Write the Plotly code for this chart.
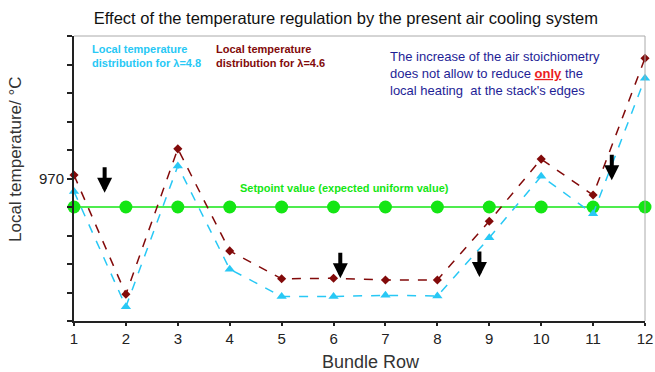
import plotly.graph_objects as go

# Bundle rows along the stack
rows = [1, 2, 3, 4, 5, 6, 7, 8, 9, 10, 11, 12]

# Local temperature per row for the two air stoichiometries (°C)
temp_lambda_48 = [967.7, 947.5, 972.2, 954.1, 949.3, 949.3, 949.5, 949.4, 959.6, 970.4, 963.8, 987.6]
temp_lambda_46 = [970.6, 949.7, 975.2, 957.3, 952.4, 952.5, 952.2, 952.2, 962.5, 973.4, 967.1, 991.1]

# Expected uniform setpoint value
setpoint = [965.0] * len(rows)

# y axis: minor ticks every 5 °C, only 970 labelled
y_ticks = [945, 950, 955, 960, 965, 970, 975, 980, 985, 990, 995]
y_tick_text = ["" if v != 970 else "970" for v in y_ticks]

# Arrow positions (tip) highlighting local heating spots
arrow_x = [1.59, 6.13, 8.81, 11.36]
arrow_y = [967.5, 952.5, 952.7, 969.7]

CYAN = "rgb(40,200,245)"
DARKRED = "rgb(130,10,10)"
GREEN = "rgb(20,230,20)"
NAVY = "rgb(30,30,150)"
FONT = "Liberation Sans, Arial, sans-serif"

W, H = 655, 372
ML, MR, MT, MB = 74, 10, 36, 51

fig = go.Figure()

fig.add_trace(go.Scatter(
    x=rows, y=setpoint, mode="lines+markers",
    line=dict(color=GREEN, width=1.5),
    marker=dict(symbol="circle", size=13, color=GREEN),
    cliponaxis=False, showlegend=False,
))
fig.add_trace(go.Scatter(
    x=rows, y=temp_lambda_48, mode="lines+markers",
    line=dict(color=CYAN, width=1.5, dash="dash"),
    marker=dict(symbol="triangle-up", size=9, color=CYAN),
    cliponaxis=False, showlegend=False,
))
fig.add_trace(go.Scatter(
    x=rows, y=temp_lambda_46, mode="lines+markers",
    line=dict(color=DARKRED, width=1.5, dash="dash"),
    marker=dict(symbol="diamond", size=7, color=DARKRED),
    cliponaxis=False, showlegend=False,
))

annotations = [
    dict(xref="paper", yref="paper", x=0.028, y=0.93, xanchor="left", yanchor="middle",
         align="left", showarrow=False,
         text="<b>Local temperature<br>distribution for λ=4.8</b>",
         font=dict(family=FONT, size=11, color=CYAN)),
    dict(xref="paper", yref="paper", x=0.245, y=0.93, xanchor="left", yanchor="middle",
         align="left", showarrow=False,
         text="<b>Local temperature<br>distribution for λ=4.6</b>",
         font=dict(family=FONT, size=11, color=DARKRED)),
    dict(xref="paper", yref="paper", x=0.55, y=0.868, xanchor="left", yanchor="middle",
         align="left", showarrow=False,
         text=("The increase of the air stoichiometry<br>"
               "does not allow to reduce <span style='color:rgb(235,30,30)'><b><u>only</u></b></span> the<br>"
               "local heating  at the stack's edges"),
         font=dict(family=FONT, size=13, color=NAVY)),
    dict(x=6.22, y=968.3, xanchor="center", yanchor="middle", showarrow=False,
         text="<b>Setpoint value (expected uniform value)</b>",
         font=dict(family=FONT, size=11, color=GREEN)),
    # axis titles
    dict(xref="paper", yref="paper", x=(371 - ML) / (W - ML - MR), y=-(362 - (H - MB)) / (H - MT - MB),
         xanchor="center", yanchor="middle", showarrow=False,
         text="Bundle Row", font=dict(family=FONT, size=18, color="#333")),
    dict(xref="paper", yref="paper", x=-(ML - 15) / (W - ML - MR), y=((H - MB) - 159) / (H - MT - MB),
         xanchor="center", yanchor="middle", showarrow=False, textangle=-90,
         text="Local temperature/ °C", font=dict(family=FONT, size=17, color="#333")),
]
for ax_, ay_ in zip(arrow_x, arrow_y):
    annotations.append(dict(
        x=ax_, y=ay_, ax=0, ay=-27, showarrow=True, text="",
        arrowhead=2, arrowsize=0.75, arrowwidth=4, arrowcolor="black",
    ))

fig.update_layout(
    width=W, height=H,
    margin=dict(l=ML, r=MR, t=MT, b=MB, autoexpand=False),
    paper_bgcolor="white", plot_bgcolor="white",
    font=dict(family=FONT, color="#222"),
    title=dict(text="Effect of the temperature regulation by the present air cooling system",
               x=0.528, xanchor="center", y=0.95, yanchor="middle",
               font=dict(family=FONT, size=16.5, color="#111")),
    xaxis=dict(range=[1, 12], tickmode="array", tickvals=rows, automargin=False,
               showgrid=False, zeroline=False,
               showline=True, linecolor="#222", linewidth=2,
               ticks="outside", ticklen=3, tickwidth=1.5, tickcolor="#222",
               tickfont=dict(family=FONT, size=15, color="#222")),
    yaxis=dict(range=[945, 995], tickmode="array", tickvals=y_ticks, ticktext=y_tick_text,
               automargin=False,
               showgrid=False, zeroline=False,
               showline=True, linecolor="#222", linewidth=2,
               ticks="outside", ticklen=5, tickwidth=1.5, tickcolor="#222",
               tickfont=dict(family=FONT, size=15, color="#222")),
    annotations=annotations,
    shapes=[
        dict(type="line", xref="paper", yref="paper", x0=0, x1=1, y0=1, y1=1,
             line=dict(color="#aaa", width=1)),
        dict(type="line", xref="paper", yref="paper", x0=1, x1=1, y0=0, y1=1,
             line=dict(color="#aaa", width=1)),
    ],
)

fig.write_html("out.html")
